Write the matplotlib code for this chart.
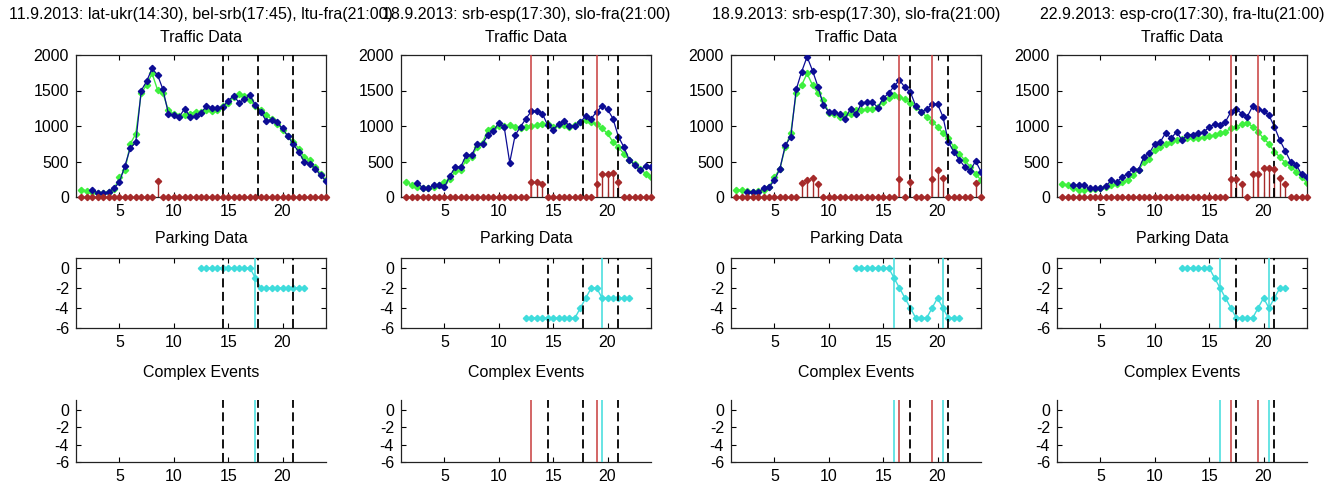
import numpy as np
import matplotlib
matplotlib.use("Agg")
import matplotlib.pyplot as plt

plt.rcParams['font.family'] = ['Liberation Sans', 'DejaVu Sans']
plt.rcParams['axes.unicode_minus'] = False

nan = np.nan

# half-hour time slots (hours)
hours = np.arange(1.5, 24.01, 0.5)
park_hours = np.arange(12.5, 22.01, 0.5)

titles = [
    "11.9.2013: lat-ukr(14:30), bel-srb(17:45), ltu-fra(21:00)",
    "18.9.2013: srb-esp(17:30), slo-fra(21:00)",
    "18.9.2013: srb-esp(17:30), slo-fra(21:00)",
    "22.9.2013: esp-cro(17:30), fra-ltu(21:00)",
]

# traffic data: measured (blue) and expected (green)
blue_1 = [nan, nan, 100, 55, 55, 70, 120, 210, 440, 690, 770, 1500, 1630, 1810, 1720, 1515,
          1175, 1150, 1130, 1245, 1130, 1140, 1185, 1280, 1260, 1260, 1270, 1355, 1425, 1330,
          1375, 1435, 1295, 1200, 1070, 1090, 1050, 965, 855, 740, 635, 495, 470, 400, 305, 225]
green_1 = [105, 85, 65, 60, 60, 70, 110, 280, 375, 750, 890, 1460, 1580, 1740, 1510, 1460,
           1220, 1175, 1140, 1150, 1175, 1200, 1200, 1220, 1210, 1220, 1280, 1320, 1410, 1445,
           1420, 1365, 1280, 1225, 1150, 1105, 1035, 950, 855, 775, 680, 565, 520, 425, 330, 235]

blue_2 = [nan, nan, 200, 130, 120, 165, 175, 140, 295, 425, 425, 590, 590, 745, 750, 870,
          930, 1045, 980, 485, 870, 990, 1105, 1210, 1210, 1175, 1010, 950, 1025, 1075,
          1000, 1000, 1055, 1140, 1105, 1200, 1280, 1235, 1105, 850, 705, 525, 445, 385, 430, 425]
green_2 = [210, 165, 140, 130, 120, 140, 165, 210, 260, 365, 385, 525, 565, 705, 760, 950,
           965, 1000, 1000, 1010, 990, 965, 990, 1000, 1010, 1025, 1025, 990, 1010, 1010,
           980, 1010, 1060, 1080, 1060, 1025, 965, 895, 775, 705, 610, 525, 470, 400, 330, 280]

blue_3 = [nan, nan, 70, 70, 70, 120, 140, 235, 400, 730, 845, 1515, 1765, 1975, 1780, 1555,
          1295, 1200, 1200, 1165, 1105, 1245, 1165, 1320, 1340, 1340, 1260, 1390, 1460, 1560,
          1645, 1545, 1480, 1280, 1200, 1235, 1310, 1310, 1130, 775, 635, 525, 425, 365, 510, 355]
green_3 = [105, 95, 80, 75, 80, 100, 140, 280, 400, 705, 905, 1460, 1575, 1740, 1575, 1460,
           1365, 1185, 1175, 1130, 1175, 1175, 1225, 1225, 1235, 1245, 1270, 1340, 1390, 1435,
           1410, 1375, 1320, 1270, 1200, 1130, 1060, 990, 895, 825, 705, 610, 520, 425, 330, 235]

blue_4 = [nan, nan, 165, 165, 165, 120, 120, 120, 155, 235, 210, 280, 330, 400, 385, 565,
          620, 750, 775, 905, 825, 920, 800, 880, 880, 895, 910, 990, 1025, 1010,
          1060, 1200, 1235, 1175, 1130, 1280, 1235, 1215, 1150, 990, 800, 650, 495, 455, 320, 280]
green_4 = [190, 165, 120, 105, 95, 110, 115, 120, 140, 165, 190, 210, 235, 305, 375, 495,
           540, 660, 705, 750, 775, 800, 810, 825, 825, 825, 845, 855, 870, 895,
           920, 965, 990, 1025, 1045, 990, 920, 825, 750, 635, 565, 480, 425, 355, 280, 200]

# detected anomalies (non-zero stems only; every other slot is 0)
stem_x_1 = [8.5]
stem_y_1 = [230]
stem_x_2 = [13, 13.5, 14, 19, 19.5, 20, 20.5, 21]
stem_y_2 = [210, 210, 190, 190, 320, 320, 340, 210]
stem_x_3 = [7.5, 8, 8.5, 9, 16.5, 17.5, 19.5, 20, 20.5, 23.5]
stem_y_3 = [200, 235, 270, 190, 250, 210, 260, 375, 270, 200]
stem_x_4 = [17, 17.5, 18, 19, 19.5, 20, 20.5, 21, 21.5, 22]
stem_y_4 = [250, 260, 180, 330, 330, 410, 410, 400, 270, 190]

# parking data
park_1 = [0, 0, 0, 0, 0, 0, 0, 0, 0, 0, -1, -2, -2, -2, -2, -2, -2, -2, -2, -2]
park_2 = [-5, -5, -5, -5, -5, -5, -5, -5, -5, -5, -4, -3, -2, -2, -3, -3, -3, -3, -3, -3]
park_3 = [0, 0, 0, 0, 0, 0, 0, -1, -2, -3, -4, -5, -5, -5, -4, -3, -4, -5, -5, -5]
park_4 = [0, 0, 0, 0, 0, 0, -1, -2, -3, -4, -5, -5, -5, -5, -4, -3, -4, -3, -2, -2]

# event times
match_times = [[14.5, 17.75, 21], [14.5, 17.75, 21], [17.5, 21], [17.5, 21]]
traffic_events = [[], [13, 19], [16.5, 19.5], [17, 19.5]]
parking_events = [[17.5], [19.5], [16, 20.5], [16, 20.5]]

blues = [blue_1, blue_2, blue_3, blue_4]
greens = [green_1, green_2, green_3, green_4]
stems = [(stem_x_1, stem_y_1), (stem_x_2, stem_y_2), (stem_x_3, stem_y_3), (stem_x_4, stem_y_4)]
parks = [park_1, park_2, park_3, park_4]

BLUE = '#0c0c94'
GREEN = '#3ef03e'
DRED = '#a52a2a'
RED = '#c83c3c'
CYAN = '#3fdcdc'

W, H = 1333, 483
fig = plt.figure(figsize=(W / 100, H / 100), dpi=100)


def add_px_axes(left, top, width, height):
    return fig.add_axes([left / W, 1 - (top + height) / H, width / W, height / H])


def style(ax, box=True):
    ax.set_xlim(1, 24)
    ax.set_xticks([5, 10, 15, 20])
    ax.tick_params(direction='in', length=3.5, width=0.8, labelsize=11.5, pad=5,
                   top=box, right=box)
    for s in ax.spines.values():
        s.set_linewidth(0.9)
        s.set_color('#222222')
    if not box:
        ax.spines['top'].set_visible(False)
        ax.spines['right'].set_visible(False)


def vlines(ax, xs, color, dashed=False):
    for x in xs:
        if dashed:
            ax.axvline(x, color='black', lw=1.3, dashes=(5, 2.5), zorder=5)
        else:
            ax.axvline(x, color=color, lw=1.1, zorder=4)


lefts = [76, 401, 731, 1057]
for i in range(4):
    left = lefts[i]
    cx = (left + 125) / W

    # traffic
    ax = add_px_axes(left, 55, 250, 142)
    ax.plot(hours, greens[i], '-D', color=GREEN, ms=3.2, lw=1.0, zorder=2)
    ax.plot(hours, blues[i], '-D', color=BLUE, ms=3.2, lw=0.9, zorder=3)
    sx, sy = stems[i]
    full = np.zeros(len(hours))
    for x, y in zip(sx, sy):
        full[np.argmin(np.abs(hours - x))] = y
    ml, sl, bl = ax.stem(hours, full, basefmt=' ')
    plt.setp(ml, color=DRED, marker='D', markersize=3.2, clip_on=False, zorder=6)
    plt.setp(sl, color=DRED, linewidth=1.0)
    vlines(ax, traffic_events[i], RED)
    vlines(ax, match_times[i], 'black', dashed=True)
    ax.set_ylim(0, 2000)
    ax.set_yticks([0, 500, 1000, 1500, 2000])
    style(ax)
    fig.text(cx, 1 - 15 / H, titles[i], ha='center', va='center', fontsize=11.5)
    fig.text(cx, 1 - 37 / H, "Traffic Data", ha='center', va='center', fontsize=11.5)

    # parking
    ax = add_px_axes(left, 258, 250, 70)
    ax.plot(park_hours, parks[i], '-D', color=CYAN, ms=3.2, lw=1.0, zorder=3)
    vlines(ax, parking_events[i], CYAN)
    vlines(ax, match_times[i], 'black', dashed=True)
    ax.set_ylim(-6, 1)
    ax.set_yticks([0, -2, -4, -6])
    style(ax)
    fig.text(cx, 1 - 239 / H, "Parking Data", ha='center', va='center', fontsize=11.5)

    # complex events
    ax = add_px_axes(left, 400, 250, 62)
    vlines(ax, traffic_events[i], RED)
    vlines(ax, parking_events[i], CYAN)
    vlines(ax, match_times[i], 'black', dashed=True)
    ax.set_ylim(-6, 1.15)
    ax.set_yticks([0, -2, -4, -6])
    style(ax, box=False)
    fig.text(cx, 1 - 373 / H, "Complex Events", ha='center', va='center', fontsize=11.5)

fig.savefig("out.png", dpi=100)
